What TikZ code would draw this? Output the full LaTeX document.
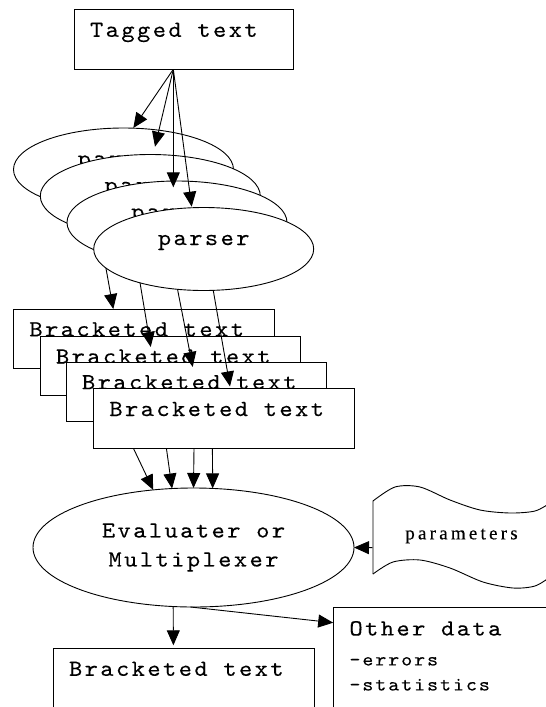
\documentclass[tikz,border=0pt]{standalone}
\usepackage{fontspec}
\usetikzlibrary{arrows.meta,positioning,shapes.geometric}
\newfontfamily\monofont{lmmono10-regular.otf}[FakeStretch=1.1,LetterSpace=10.4,FakeBold=0.2]
\newfontfamily\parfont[LetterSpace=17,FakeBold=0.3]{Liberation Serif}

\begin{document}
\begin{tikzpicture}[-,x=1pt,y=-1pt,line width=0.9pt]
\tikzstyle{box}=[rectangle,draw=black,fill=white,inner xsep=16pt,inner ysep=0pt,outer sep=0pt,text width=228.7pt,minimum height=59.5pt,align=flush left,text height=14pt,text depth=19pt,font=\monofont\fontsize{23}{25}\selectfont]
\tikzstyle{oval}=[ellipse,draw=black,fill=white,inner sep=0pt,outer sep=0pt,font=\monofont\fontsize{23}{29}\selectfont]
\tikzstyle{parse}=[oval,minimum width=220pt,minimum height=83pt,text height=10pt,text depth=18pt]
\tikzstyle{arr}=[->,>={Triangle[length=15pt,width=13pt]}]

\useasboundingbox (0,0) rectangle (546,707);

\node [box,text width=187.3pt,minimum height=60pt] (tag) at (183.7,39.3) {Tagged text};

\node [parse] (p1) at (123.5,169.5) {parser};
\node [parse] (p2) at (150.3,196) {parser};
\node [parse] (p3) at (177,222.5) {parser};
\node [parse] (p4) at (203.7,249) {parser};

\node [box] (b1) at (143.7,338.8) {Bracketed text};
\node [box] (b2) at (170.3,366) {Bracketed text};
\node [box] (b3) at (196.3,391.7) {Bracketed text};
\node [box] (b4) at (223.7,418.5) {Bracketed text};

\node [oval,minimum width=321pt,minimum height=119pt,align=center] (eval) at (193.5,547.5) {Evaluater or\\Multiplexer};

% the tape for the parameters
\draw (373,574) -- (373,501) -- plot[smooth] coordinates {(373,501) (395,487) (420,487) (450,500) (480,510) (510,513) (535,511) (550,503)};
\draw plot[smooth] coordinates {(373,574) (393,562) (420,560) (450,568) (483,582) (513,588) (535,586) (550,577)};
\node [font=\parfont\fontsize{19}{22}\selectfont,minimum width=177pt,inner sep=0pt] (par) at (461.5,536) {parameters};

\node [box,text width=229.4pt,minimum height=60pt] (out) at (183.7,678.3) {Bracketed text};
\node [draw=black,fill=white,anchor=north west,inner xsep=15.8pt,inner ysep=14pt,text width=230pt,align=flush left,text height=14pt,text depth=100pt,font=\monofont\fontsize{23}{25}\selectfont] (other) at (333.2,607)
  {Other data\\[5pt]{\fontsize{19}{24}\selectfont -errors}\\{\fontsize{19}{24}\selectfont -statistics}};

\path[arr] ([xshift=-10.4pt]tag.south) edge ([xshift=9.8pt]p1.north);
\path[arr] ([xshift=-10.4pt]tag.south) edge ([xshift=4.7pt,yshift=7.8pt]p2.north);
\path[arr] ([xshift=-10.4pt]tag.south) edge ([xshift=-3.7pt,yshift=-6.3pt]p3.north);
\path[arr] ([xshift=-10.4pt]tag.south) edge ([xshift=-12pt,yshift=0.8pt]p4.north);

\path[arr] (p4.191.4) edge ([xshift=-30.4pt]b1.north);
\path[arr] (p4.208) edge ([xshift=-19.6pt,yshift=-10.7pt]b2.north);
\path[arr] (p4.237.8) edge ([xshift=-3.6pt,yshift=-5pt]b3.north);
\path[arr] (p4.283.1) edge ([xshift=6.3pt,yshift=2.3pt]b4.north);

\path[arr] ([xshift=-90.3pt]b4.south) edge (eval.125);
\path[arr] ([xshift=-57.3pt]b4.south) edge (eval.110.3);
\path[arr] ([xshift=-29.7pt]b4.south) edge (eval.90);
\path[arr] ([xshift=-11.3pt]b4.south) edge (eval.72.2);

\path[arr] ([yshift=-11.7pt]par.west) edge (eval.east);
\path[arr] (eval.251.2) edge ([xshift=-10.3pt,yshift=3pt]out.north);
\path[arr] (eval.267.4) edge ([yshift=-15.7pt]other.north west);
\end{tikzpicture}
\end{document}
